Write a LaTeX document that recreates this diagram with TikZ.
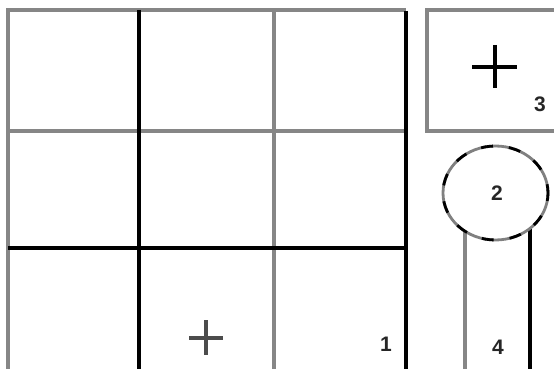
\documentclass[tikz,border=0pt]{standalone}
\usepackage{fontspec}
\setmainfont{Liberation Sans}
\begin{document}
\begin{tikzpicture}[x=1pt,y=-1pt,
  grayline/.style={draw=gray!95!white,line width=3.2pt},
  blackline/.style={draw=black,line width=3.2pt},
  digit/.style={font=\fontsize{21}{24}\selectfont\bfseries,inner sep=0pt,text=black!85},
  plusmark/.style={line width=3.6pt,line cap=butt}]
\useasboundingbox (0,0) rectangle (554,369);
\clip (0,0) rectangle (554,369);
\fill[white] (0,0) rectangle (554,369);
% grid
\draw[grayline] (8,372) -- (8,10) -- (406,10);
\draw[grayline] (274,10) -- (274,372);
\draw[grayline] (8,131) -- (406,131);
\draw[blackline] (8,248) -- (406,248);
\draw[blackline] (139,10) -- (139,372);
\draw[blackline] (406,11) -- (406,372);
% top right box
\draw[grayline] (558,10) -- (427,10) -- (427,131) -- (558,131);
\draw[plusmark] (472,67) -- (517,67);
\draw[plusmark] (495,45) -- (495,88);
\node[digit] (n3) at (540,104) {3};
% tall rect
\draw[grayline] (465,372) -- (465,228);
\draw[blackline] (530,228) -- (530,372);
% circle
\draw[draw=gray,line width=2.8pt,fill=white] (495.5,193) ellipse [x radius=52.5,y radius=47];
\draw[draw=black,line width=2.8pt,dash pattern=on 12pt off 16pt,dash phase=4pt] (495.5,193) ellipse [x radius=52.5,y radius=47];
\node[digit] (n2) at (497,193) {2};
\node[digit] (n4) at (498,347) {4};
% bottom plus
\draw[plusmark,draw=black!70] (189,338) -- (223,338);
\draw[plusmark,draw=black!70] (206,320) -- (206,355);
\node[digit] (n1) at (386,344) {1};
\end{tikzpicture}
\end{document}
